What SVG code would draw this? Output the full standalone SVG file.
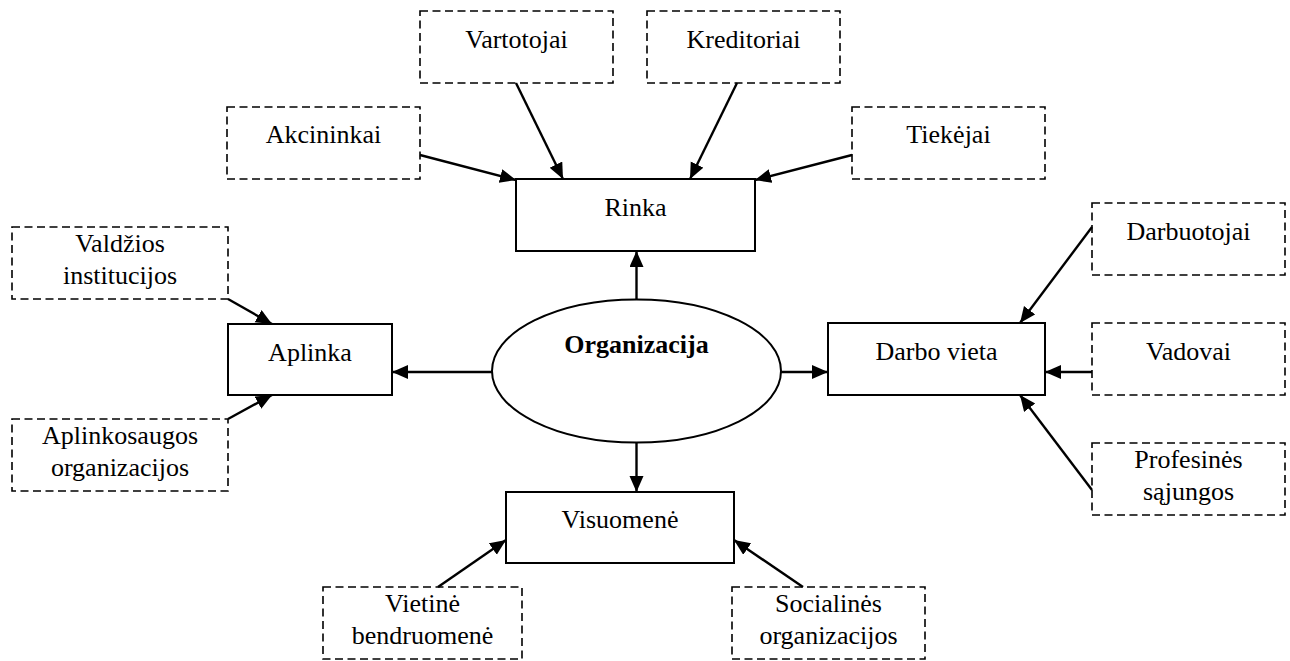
<svg xmlns="http://www.w3.org/2000/svg" width="1290" height="661" viewBox="0 0 1290 661">
  <style>
    .solid { fill: #fff; stroke: #000; stroke-width: 2; }
    .dash { fill: #fff; stroke: #000; stroke-width: 1.6; stroke-dasharray: 8 4.5; }
    .lbl { font-family: "Liberation Serif", "Times New Roman", serif; font-size: 26px; fill: #000; text-anchor: middle; }
    .bold { font-weight: bold; }
    .conn line { stroke: #000; stroke-width: 2.4; marker-end: url(#arrow); }
  </style>
  <defs>
    <marker id="arrow" markerUnits="userSpaceOnUse" markerWidth="18" markerHeight="16" refX="16" refY="7" orient="auto">
      <path d="M0,0 L16,7 L0,14 Z" fill="#000"/>
    </marker>
  </defs>
  <rect width="1290" height="661" fill="#fff"/>

  <!-- central node -->
  <g id="organizacija">
    <ellipse class="solid" cx="636.5" cy="371" rx="144.5" ry="71.5"/>
    <text class="lbl bold" x="636.5" y="353">Organizacija</text>
  </g>

  <!-- main areas -->
  <g id="rinka">
    <rect class="solid" x="516" y="179" width="239" height="72"/>
    <text class="lbl" x="635.5" y="216">Rinka</text>
  </g>
  <g id="aplinka">
    <rect class="solid" x="228" y="324" width="164" height="71"/>
    <text class="lbl" x="310" y="361">Aplinka</text>
  </g>
  <g id="darbo-vieta">
    <rect class="solid" x="828" y="323" width="217" height="72"/>
    <text class="lbl" x="936.5" y="360">Darbo vieta</text>
  </g>
  <g id="visuomene">
    <rect class="solid" x="506" y="492" width="228" height="71"/>
    <text class="lbl" x="620" y="528">Visuomenė</text>
  </g>

  <!-- stakeholder groups -->
  <g id="akcininkai">
    <rect class="dash" x="227" y="107" width="193" height="72"/>
    <text class="lbl" x="323.5" y="143">Akcininkai</text>
  </g>
  <g id="vartotojai">
    <rect class="dash" x="420" y="11" width="193" height="72"/>
    <text class="lbl" x="516.5" y="48">Vartotojai</text>
  </g>
  <g id="kreditoriai">
    <rect class="dash" x="647" y="11" width="193" height="72"/>
    <text class="lbl" x="743.5" y="48">Kreditoriai</text>
  </g>
  <g id="tiekejai">
    <rect class="dash" x="852" y="107" width="193" height="72"/>
    <text class="lbl" x="948.5" y="143">Tiekėjai</text>
  </g>
  <g id="valdzios-institucijos">
    <rect class="dash" x="12" y="227" width="216" height="72"/>
    <text class="lbl" x="120" y="252">Valdžios</text>
    <text class="lbl" x="120" y="284">institucijos</text>
  </g>
  <g id="aplinkosaugos-organizacijos">
    <rect class="dash" x="12" y="419" width="216" height="72"/>
    <text class="lbl" x="120" y="444">Aplinkosaugos</text>
    <text class="lbl" x="120" y="476">organizacijos</text>
  </g>
  <g id="darbuotojai">
    <rect class="dash" x="1092" y="203" width="193" height="72"/>
    <text class="lbl" x="1188.5" y="240">Darbuotojai</text>
  </g>
  <g id="vadovai">
    <rect class="dash" x="1092" y="323" width="193" height="72"/>
    <text class="lbl" x="1188.5" y="360">Vadovai</text>
  </g>
  <g id="profesines-sajungos">
    <rect class="dash" x="1092" y="443" width="193" height="72"/>
    <text class="lbl" x="1188.5" y="468">Profesinės</text>
    <text class="lbl" x="1188.5" y="500">sąjungos</text>
  </g>
  <g id="vietine-bendruomene">
    <rect class="dash" x="323" y="587" width="199" height="72"/>
    <text class="lbl" x="422.5" y="612">Vietinė</text>
    <text class="lbl" x="422.5" y="644">bendruomenė</text>
  </g>
  <g id="socialines-organizacijos">
    <rect class="dash" x="732" y="587" width="193" height="72"/>
    <text class="lbl" x="828.5" y="612">Socialinės</text>
    <text class="lbl" x="828.5" y="644">organizacijos</text>
  </g>

  <!-- connectors -->
  <g id="connectors" class="conn">
    <line x1="636.5" y1="299.5" x2="636.5" y2="251"/>
    <line x1="492" y1="372" x2="392" y2="372"/>
    <line x1="781" y1="372" x2="828" y2="372"/>
    <line x1="636.5" y1="442.5" x2="636.5" y2="492"/>

    <line x1="420" y1="155" x2="516" y2="180"/>
    <line x1="516" y1="83" x2="563" y2="179"/>
    <line x1="737" y1="83" x2="690" y2="179"/>
    <line x1="852" y1="155" x2="755" y2="180"/>

    <line x1="228" y1="299" x2="272" y2="324"/>
    <line x1="228" y1="419" x2="272" y2="395"/>

    <line x1="1092" y1="227" x2="1020" y2="323"/>
    <line x1="1092" y1="372" x2="1045" y2="372"/>
    <line x1="1092" y1="490" x2="1020" y2="395"/>

    <line x1="438" y1="587" x2="506" y2="540"/>
    <line x1="803" y1="587" x2="734" y2="540"/>
  </g>
</svg>
